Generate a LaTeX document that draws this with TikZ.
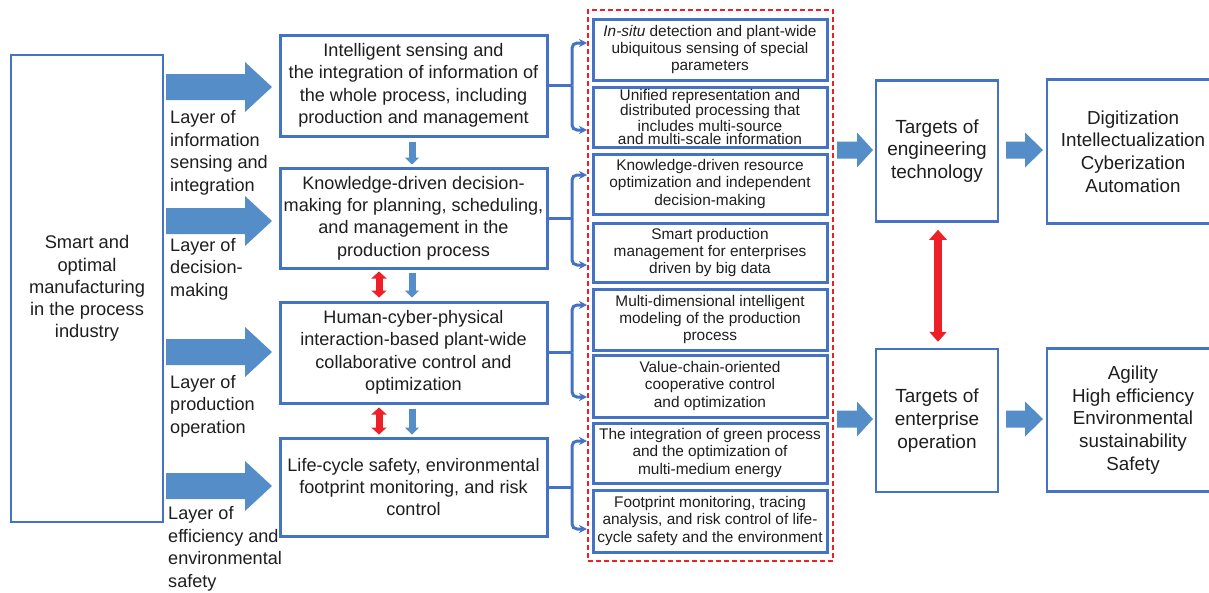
\documentclass[tikz,border=0pt]{standalone}
\usepackage{fontspec}
\setmainfont{Liberation Sans}
\usetikzlibrary{arrows.meta}

\definecolor{boxblue}{RGB}{68,114,196}
\definecolor{flowblue}{RGB}{84,141,199}
\definecolor{linkred}{RGB}{236,32,38}
\definecolor{ink}{RGB}{30,30,30}

% font size helper: size and line spacing in pt
\newcommand{\setfs}[2]{\fontsize{#1}{#2}\selectfont}

% right-pointing block arrow: x-start, x-tip, y-centre, half shaft, half head, head base x
\newcommand{\rightblock}[6]{%
  \fill[flowblue] (#1,{#3-#4}) -- (#6,{#3-#4}) -- (#6,{#3-#5}) -- (#2,#3)
    -- (#6,{#3+#5}) -- (#6,{#3+#4}) -- (#1,{#3+#4}) -- cycle;}

\tikzset{
  corebox/.style={draw=boxblue, line width=2.5pt, inner sep=0pt, align=center,
    text=ink, font=\setfs{18.3}{22.2}},
  midbox/.style={draw=boxblue, line width=3pt, minimum width=267pt, inner sep=0pt,
    align=center, text=ink, font=\setfs{18.1}{22.4}},
  subbox/.style={draw=boxblue, line width=3pt, minimum width=234pt, inner sep=0pt,
    align=center, text=ink, font=\setfs{15.4}{17.3}},
  tgtbox/.style={draw=boxblue, line width=2.5pt, minimum width=122pt, inner sep=0pt,
    align=center, text=ink, font=\setfs{19}{22.8}},
  goalbox/.style={draw=boxblue, line width=2.5pt, minimum width=172pt, inner sep=0pt,
    align=center, text=ink, font=\setfs{18.8}{22.8}},
  layerlbl/.style={anchor=west, align=left, inner sep=0pt, text=ink,
    font=\setfs{18.1}{22.5}},
  groupbox/.style={draw=linkred, line width=1.5pt, dash pattern=on 5pt off 3pt,
    inner sep=0pt},
  downlink/.style={draw=flowblue, line width=7pt,
    -{Triangle[length=7pt,width=14pt]}},
  twoway/.style={draw=linkred, line width=7pt,
    {Triangle[length=7pt,width=15pt]}-{Triangle[length=7pt,width=15pt]}},
  bigtwoway/.style={draw=linkred, line width=8pt,
    {Triangle[length=10pt,width=17pt]}-{Triangle[length=10pt,width=17pt]}},
  brk/.style={draw=boxblue, line width=3pt, rounded corners=5pt},
  brkarrow/.style={brk, -{Stealth[length=8pt,width=8pt]}},
}

\begin{document}
\begin{tikzpicture}[x=1pt,y=-1pt]
\useasboundingbox (0,0) rectangle (1209,592);
\fill[white] (0,0) rectangle (1209,592);

% overall goal
\node[corebox, minimum width=152pt, minimum height=467pt] (core) at (87,288.5)
  {Smart and\\optimal\\manufacturing\\in the process\\industry};

% layer arrows and their labels
\rightblock{166}{272}{87}{13}{25}{245}
\rightblock{166}{272}{221}{13}{25}{245}
\rightblock{166}{272}{352}{13}{25}{245}
\rightblock{166}{272}{486}{13}{25}{245}

\node[layerlbl] (l1) at (170,153) {Layer of\\information\\sensing and\\integration};
\node[layerlbl] (l2) at (170,269) {Layer of\\decision-\\making};
\node[layerlbl] (l3) at (170,406) {Layer of\\production\\operation};
\node[layerlbl] (l4) at (168,549) {Layer of\\efficiency and\\environmental\\safety};

% the four layers
\node[midbox, minimum height=101pt] (A) at (413.5,85.5)
  {Intelligent sensing and\\the integration of information of\\the whole process, including\\production and management};
\node[midbox, minimum height=100pt] (B) at (413.5,218)
  {Knowledge-driven decision-\\making for planning, scheduling,\\and management in the\\production process};
\node[midbox, minimum height=101pt] (C) at (413.5,352.5)
  {Human-cyber-physical\\interaction-based plant-wide\\collaborative control and\\optimization};
\node[midbox, minimum height=98pt] (D) at (413.5,487)
  {Life-cycle safety, environmental\\footprint monitoring, and risk\\control};

% flow between layers
\draw[downlink] ([xshift=-1.5pt,yshift=-4pt]A.south) -- ([xshift=-1.5pt,yshift=2pt]B.north);
\draw[downlink] ([xshift=-1.5pt,yshift=-3pt]B.south) -- ([xshift=-1.5pt,yshift=3pt]C.north);
\draw[downlink] ([xshift=-1.5pt,yshift=-4pt]C.south) -- ([xshift=-1.5pt,yshift=2pt]D.north);
\draw[twoway] ([xshift=-34.5pt,yshift=-2pt]B.south) -- ([xshift=-34.5pt,yshift=3pt]C.north);
\draw[twoway] ([xshift=-34.5pt,yshift=-3pt]C.south) -- ([xshift=-34.5pt,yshift=2pt]D.north);

% key technologies
\node[groupbox, minimum width=245pt, minimum height=551pt] (grp) at (710.5,285.5) {};

\node[subbox, minimum height=61pt] (s1) at (710,49.5)
  {\textit{In-situ} detection and plant-wide\\ubiquitous sensing of special\\parameters};
\node[subbox, minimum height=60pt, font=\setfs{15.4}{13.3}] (s2) at (710,117)
  {Unified representation and\\distributed processing that\\includes multi-source\\and multi-scale information};
\node[subbox, minimum height=60pt] (s3) at (710,184)
  {Knowledge-driven resource\\optimization and independent\\decision-making};
\node[subbox, minimum height=59pt] (s4) at (710,252.5)
  {Smart production\\management for enterprises\\driven by big data};
\node[subbox, minimum height=61pt] (s5) at (710,319.5)
  {Multi-dimensional intelligent\\modeling of the production\\process};
\node[subbox, minimum height=62pt] (s6) at (710,386)
  {Value-chain-oriented\\cooperative control\\and optimization};
\node[subbox, minimum height=60pt] (s7) at (710,453)
  {The integration of green process\\and the optimization of\\multi-medium energy};
\node[subbox, minimum height=62pt] (s8) at (710,521)
  {Footprint monitoring, tracing\\analysis, and risk control of life-\\cycle safety and the environment};

% brackets from each layer to its technologies
\coordinate (jA) at (572,85.5);  \coordinate (tA1) at (587,43);  \coordinate (tA2) at (587,130);
\coordinate (jB) at (572,218);   \coordinate (tB1) at (587,175); \coordinate (tB2) at (587,265);
\coordinate (jC) at (572,352.5); \coordinate (tC1) at (587,305); \coordinate (tC2) at (587,397);
\coordinate (jD) at (572,487);   \coordinate (tD1) at (587,441); \coordinate (tD2) at (587,529);

\draw[brk] (A.east) -- (jA);
\draw[brkarrow] (jA) |- (tA1);
\draw[brkarrow] (jA) |- (tA2);
\draw[brk] (B.east) -- (jB);
\draw[brkarrow] (jB) |- (tB1);
\draw[brkarrow] (jB) |- (tB2);
\draw[brk] (C.east) -- (jC);
\draw[brkarrow] (jC) |- (tC1);
\draw[brkarrow] (jC) |- (tC2);
\draw[brk] (D.east) -- (jD);
\draw[brkarrow] (jD) |- (tD1);
\draw[brkarrow] (jD) |- (tD2);

% targets
\node[tgtbox, minimum height=141pt] (T1) at (937,151) {Targets of\\engineering\\technology};
\node[tgtbox, minimum height=143pt] (T2) at (937,420.5) {Targets of\\enterprise\\operation};
\node[goalbox, minimum height=144pt] (G1) at (1133,151.5)
  {Digitization\\Intellectualization\\Cyberization\\Automation};
\node[goalbox, minimum height=143pt] (G2) at (1133,420)
  {Agility\\High efficiency\\Environmental\\sustainability\\Safety};

\rightblock{837}{873}{150}{8.5}{17.5}{857}
\rightblock{837}{873}{419}{8.5}{17.5}{857}
\rightblock{1006}{1043}{150}{8.5}{17.5}{1025}
\rightblock{1006}{1043}{419}{8.5}{17.5}{1025}

\draw[bigtwoway] ([xshift=1pt,yshift=-7pt]T1.south) -- ([xshift=1pt,yshift=6pt]T2.north);
\end{tikzpicture}
\end{document}
